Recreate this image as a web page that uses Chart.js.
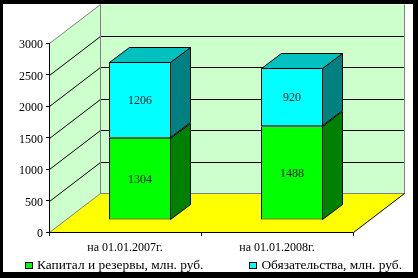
<!DOCTYPE html>
<html>
<head>
<meta charset="utf-8">
<script src="https://cdn.jsdelivr.net/npm/chart.js@4/dist/chart.umd.min.js"></script>
<style>
    html, body { margin: 0; padding: 0; background: #fff; }
    #wrap { position: relative; width: 418px; height: 278px; }
    #chart { display: block; }
    #legend {
        position: absolute; left: 25px; top: 257px;
        display: flex; gap: 46px;
        font: 13.4px/16px "Liberation Serif", "Times New Roman", serif;
        color: #000; white-space: nowrap;
    }
    #legend .item { display: flex; align-items: center; }
    #legend .box { width: 8px; height: 7px; border: 1px solid #000; box-sizing: border-box; margin-right: 4px; }
</style>
</head>
<body>
<div id="wrap">
    <canvas id="chart" width="418" height="278"></canvas>
    <div id="legend"></div>
</div>
<script>
// ---- data ----
const categories = ['на 01.01.2007г.', 'на 01.01.2008г.'];
const seriesNames = ['Капитал и резервы, млн. руб.', 'Обязательства, млн. руб.'];
const capital = [1304, 1488];
const liabilities = [1206, 920];
const yTicks = [0, 500, 1000, 1500, 2000, 2500, 3000];

// ---- 3D look ----
const frontColors = ['#00FF00', '#00FFFF'];
const sideColors = ['#008000', '#008080'];
const topColors = ['#00C000', '#00C0C0'];
const DEPTH_X = 51, DEPTH_Y = 39;   // depth of floor / walls
const PLANE_X = 15, PLANE_Y = 12;   // where the bars stand inside the depth
const BAR_DX = 20, BAR_DY = 15;     // bar thickness

function poly(ctx, pts, fill, stroke) {
    ctx.beginPath();
    pts.forEach((p, i) => i ? ctx.lineTo(p[0], p[1]) : ctx.moveTo(p[0], p[1]));
    ctx.closePath();
    if (fill) { ctx.fillStyle = fill; ctx.fill(); }
    if (stroke) { ctx.strokeStyle = stroke; ctx.lineWidth = 1; ctx.stroke(); }
}

function line(ctx, pts, color) {
    ctx.beginPath();
    pts.forEach((p, i) => i ? ctx.lineTo(p[0], p[1]) : ctx.moveTo(p[0], p[1]));
    ctx.strokeStyle = color; ctx.lineWidth = 1; ctx.stroke();
}

const scene3d = {
    id: 'scene3d',
    beforeDraw(chart) {
        const { ctx, chartArea: a, scales: { y } } = chart;
        const L = a.left + 0.5, R = a.right + 0.5, B = Math.round(a.bottom) + 0.5, T = Math.round(a.top) + 0.5;
        ctx.save();
        // frame
        ctx.fillStyle = '#000';
        ctx.fillRect(0, 0, chart.width, chart.height);
        ctx.fillStyle = '#fff';
        ctx.fillRect(3, 4, 410, 268);

        // walls and floor
        poly(ctx, [[L, T], [L + DEPTH_X, T - DEPTH_Y], [L + DEPTH_X, B - DEPTH_Y], [L, B]], '#CCFFCC');
        poly(ctx, [[L + DEPTH_X, T - DEPTH_Y], [R + DEPTH_X, T - DEPTH_Y], [R + DEPTH_X, B - DEPTH_Y], [L + DEPTH_X, B - DEPTH_Y]], '#CCFFCC');
        poly(ctx, [[L, B], [R, B], [R + DEPTH_X, B - DEPTH_Y], [L + DEPTH_X, B - DEPTH_Y]], '#FFFF00');

        // gridlines on side and back walls
        yTicks.forEach(v => {
            if (v === yTicks[0] || v === yTicks[yTicks.length - 1]) return;
            const py = Math.round(y.getPixelForValue(v)) + 0.5;
            line(ctx, [[L, py], [L + DEPTH_X, py - DEPTH_Y], [R + DEPTH_X, py - DEPTH_Y]], '#000');
        });

        // wall edges
        line(ctx, [[L, T], [L + DEPTH_X, T - DEPTH_Y]], '#808080');
        line(ctx, [[L, B], [L + DEPTH_X, B - DEPTH_Y], [R + DEPTH_X, B - DEPTH_Y]], '#808080');
        line(ctx, [[L + DEPTH_X, T - DEPTH_Y], [L + DEPTH_X, B - DEPTH_Y]], '#808080');
        line(ctx, [[R + DEPTH_X, T - DEPTH_Y], [R + DEPTH_X, B - DEPTH_Y]], '#808080');
        line(ctx, [[R, B], [R + DEPTH_X, B - DEPTH_Y]], '#000');
        ctx.restore();
    },
    beforeDatasetsDraw(chart) {
        // bars stand in a plane pushed back into the floor
        chart.ctx.save();
        chart.ctx.translate(PLANE_X, -PLANE_Y);
    },
    afterDatasetsDraw(chart) {
        const ctx = chart.ctx;
        ctx.restore();
        ctx.save();
        const last = chart.data.datasets.length - 1;
        chart.data.datasets.forEach((ds, di) => {
            chart.getDatasetMeta(di).data.forEach(el => {
                const l = Math.round(el.x - el.width / 2) + PLANE_X + 0.5;
                const r = Math.round(el.x + el.width / 2) + PLANE_X - 0.5;
                const t = Math.round(el.y) - PLANE_Y + 0.5;
                const b = Math.round(el.base) - PLANE_Y - 0.5;
                poly(ctx, [[r, t], [r + BAR_DX, t - BAR_DY], [r + BAR_DX, b - BAR_DY], [r, b]], sideColors[di], '#000');
                if (di === last) {
                    poly(ctx, [[l, t], [l + BAR_DX, t - BAR_DY], [r + BAR_DX, t - BAR_DY], [r, t]], topColors[di], '#000');
                }
            });
        });
        // value labels
        ctx.font = '12px "Liberation Serif", "Times New Roman", serif';
        ctx.fillStyle = '#222';
        ctx.textAlign = 'center';
        ctx.textBaseline = 'middle';
        chart.data.datasets.forEach((ds, di) => {
            chart.getDatasetMeta(di).data.forEach((el, i) => {
                ctx.fillText(String(ds.data[i]), el.x + PLANE_X, (el.y + el.base) / 2 - PLANE_Y + 1);
            });
        });
        ctx.restore();
    }
};

const tickFont = { family: '"Liberation Serif", "Times New Roman", serif', size: 12 };

const chart = new Chart(document.getElementById('chart'), {
    type: 'bar',
    data: {
        labels: categories,
        datasets: [
            { label: seriesNames[0], data: capital, backgroundColor: frontColors[0] },
            { label: seriesNames[1], data: liabilities, backgroundColor: frontColors[1] }
        ]
    },
    options: {
        responsive: false,
        animation: false,
        layout: { padding: { left: 3, right: 65, top: 43, bottom: 20 } },
        datasets: {
            bar: {
                categoryPercentage: 1,
                barPercentage: 62 / 152,
                borderColor: '#000',
                borderWidth: 1,
                borderSkipped: false,
                clip: false
            }
        },
        plugins: {
            legend: { display: false },
            tooltip: { enabled: false }
        },
        scales: {
            x: {
                stacked: true,
                grid: { drawOnChartArea: false, tickLength: 4, color: '#000' },
                border: { color: '#000' },
                ticks: { padding: 5, color: '#000', font: tickFont, maxRotation: 0 },
                afterFit: s => { s.height = 26; }
            },
            y: {
                stacked: true,
                min: yTicks[0],
                max: yTicks[yTicks.length - 1],
                grid: { drawOnChartArea: false, tickLength: 3, color: '#000' },
                border: { color: '#000' },
                ticks: { padding: 3, labelOffset: 2, color: '#000', font: tickFont, callback: v => String(v) },
                afterBuildTicks: s => { s.ticks = yTicks.map(v => ({ value: v })); },
                afterFit: s => { s.width = 46; }
            }
        }
    },
    plugins: [scene3d]
});

// html legend built from the datasets
const legend = document.getElementById('legend');
chart.data.datasets.forEach(ds => {
    const item = document.createElement('div');
    item.className = 'item';
    item.innerHTML = `<span class="box" style="background:${ds.backgroundColor}"></span><span>${ds.label}</span>`;
    legend.appendChild(item);
});
</script>
</body>
</html>
